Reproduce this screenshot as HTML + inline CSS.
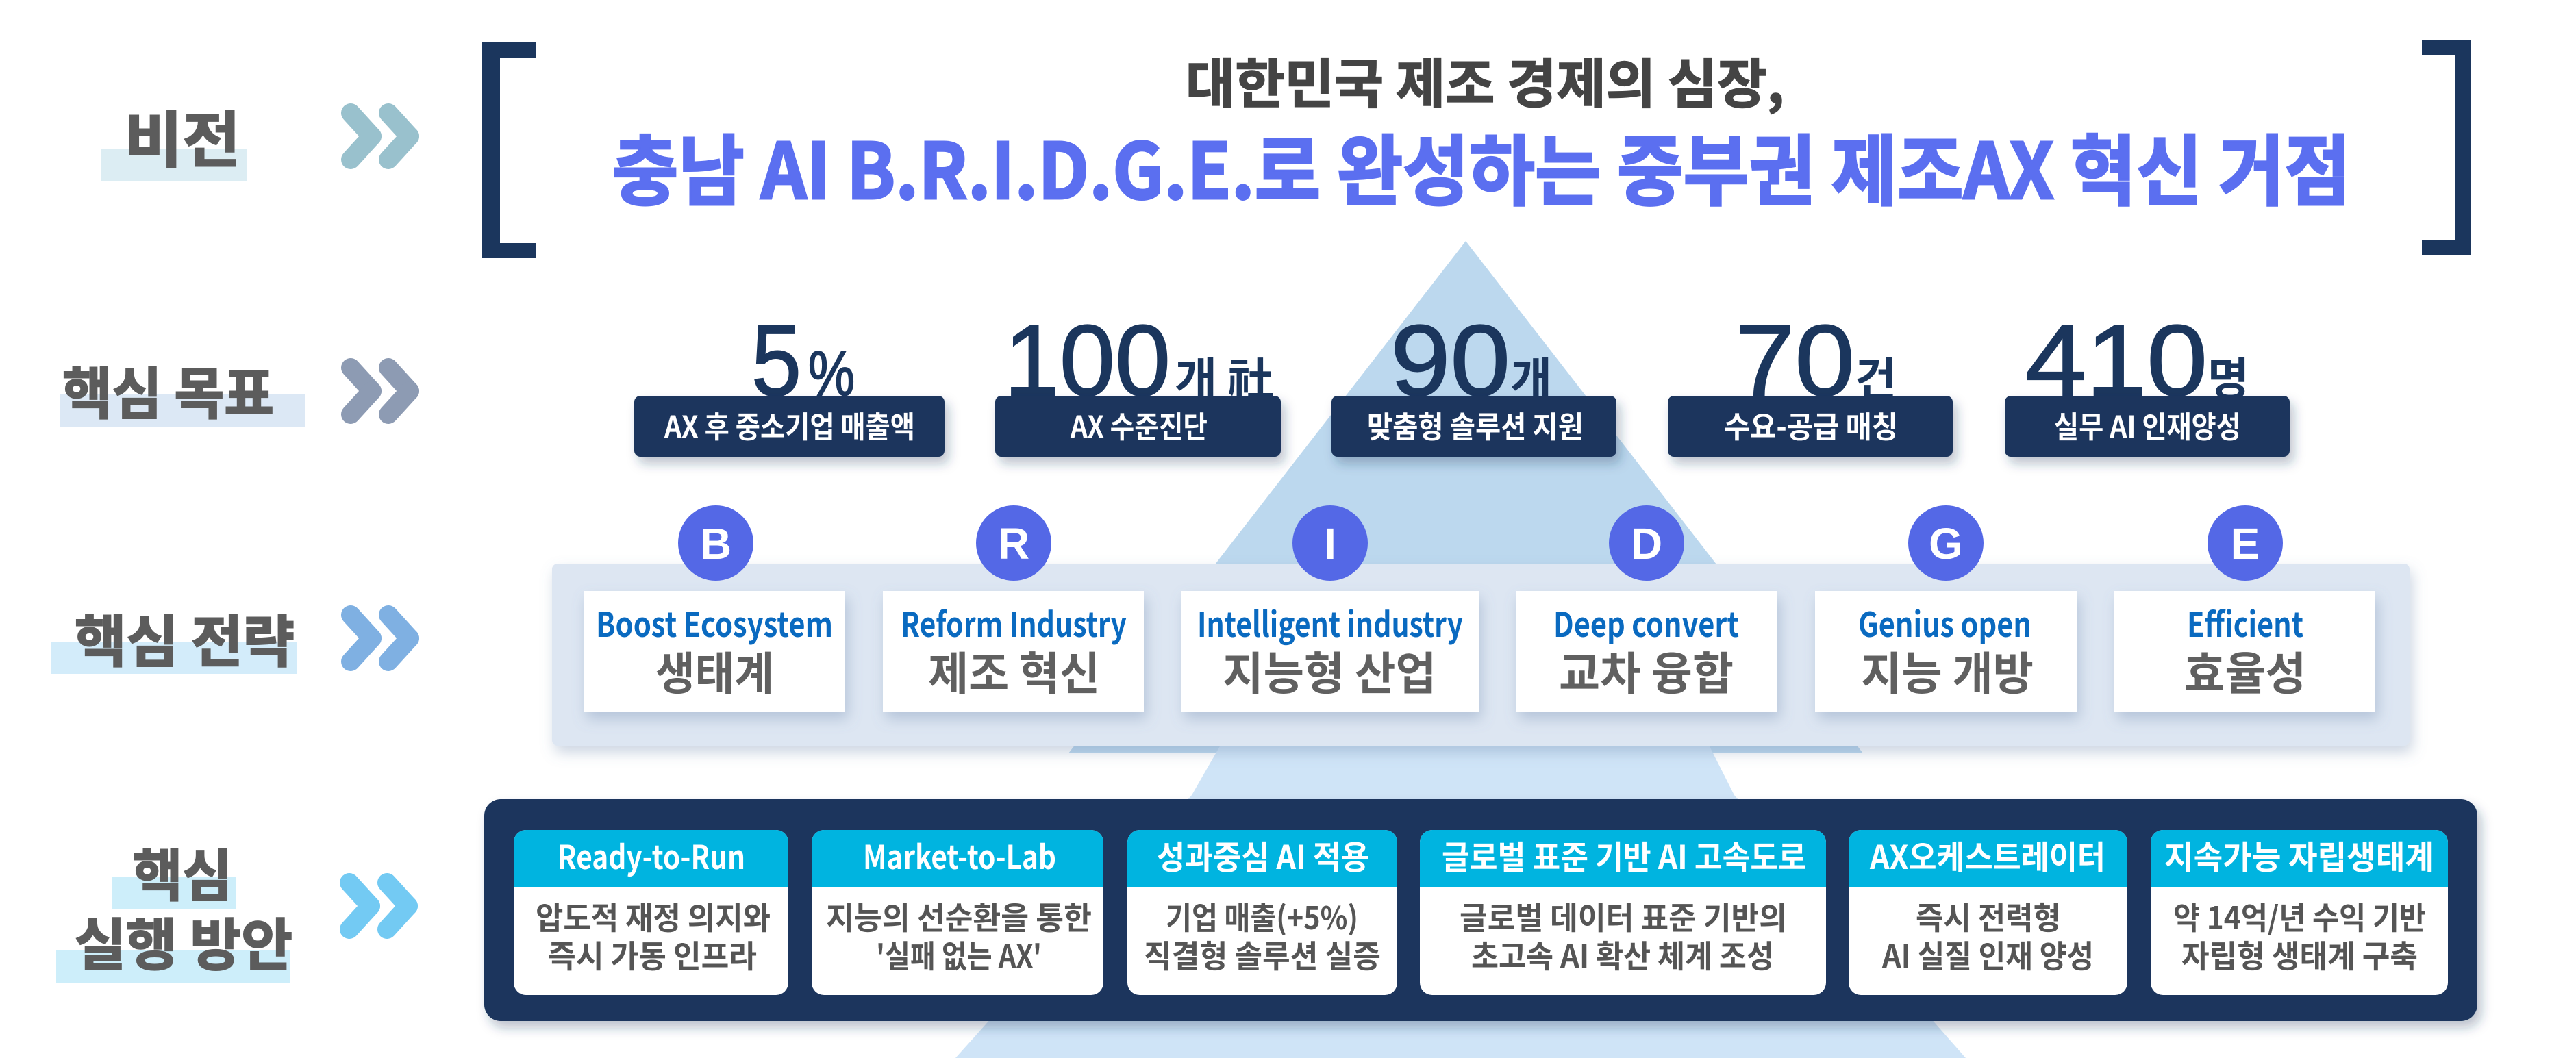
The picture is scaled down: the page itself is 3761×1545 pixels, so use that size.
<!DOCTYPE html>
<html><head><meta charset="utf-8">
<style>
html,body{margin:0;padding:0;background:#fff;}
svg{display:block;}
text{font-family:"Liberation Sans","Noto Sans CJK KR",sans-serif;}
.k{font-family:"Noto Sans CJK KR","Liberation Sans",sans-serif;font-weight:700;}
</style></head>
<body>
<svg width="3761" height="1545" viewBox="0 0 3761 1545" xmlns="http://www.w3.org/2000/svg">
<defs>
<filter id="sh" x="-10%" y="-20%" width="130%" height="160%"><feDropShadow dx="6" dy="10" stdDeviation="8" flood-color="#1b365d" flood-opacity="0.3"/></filter>
<filter id="sh2" x="-10%" y="-20%" width="130%" height="160%"><feDropShadow dx="4" dy="10" stdDeviation="10" flood-color="#6a84aa" flood-opacity="0.35"/></filter>
</defs>

<!-- background shapes -->
<polygon points="2140,352 2720,1100 1560,1100" fill="#bcd8ee"/>
<polygon points="1782,1088 2495,1088 2532,1161 2870,1545 1395,1545 1740,1161" fill="#cfe4f7"/>

<!-- brackets -->
<path d="M782,62 H704 V377 H782 V355 H730 V84 H782 Z" fill="#1b365d"/>
<path d="M3536,58 H3608 V372 H3536 V350 H3584 V80 H3536 Z" fill="#1b365d"/>

<!-- title -->
<text class="k" x="1731" y="150" font-size="78" fill="#444" stroke="#444" stroke-width="1.5" textLength="874" lengthAdjust="spacingAndGlyphs">대한민국 제조 경제의 심장,</text>
<text class="k" x="894" y="290" font-size="112" fill="#5b6ff0" stroke="#5b6ff0" stroke-width="3" textLength="2538" lengthAdjust="spacingAndGlyphs">충남 AI B.R.I.D.G.E.로 완성하는 중부권 제조AX 혁신 거점</text>

<!-- left labels -->
<g stroke="#5c5c5c" stroke-width="2">
<rect x="147" y="217" width="214" height="47" fill="#dcedf3" stroke="none"/>
<text class="k" x="182" y="236" font-size="88" fill="#5c5c5c" textLength="169" lengthAdjust="spacingAndGlyphs">비전</text>
<rect x="87" y="576" width="358" height="47" fill="#dce8f5" stroke="none"/>
<text class="k" x="91" y="604" font-size="82" fill="#5c5c5c" textLength="309" lengthAdjust="spacingAndGlyphs">핵심 목표</text>
<rect x="75" y="937" width="358" height="47" fill="#d3ecfa" stroke="none"/>
<text class="k" x="109" y="966" font-size="82" fill="#5c5c5c" textLength="321" lengthAdjust="spacingAndGlyphs">핵심 전략</text>
<rect x="164" y="1280" width="181" height="48" fill="#cdeefa" stroke="none"/>
<text class="k" x="194" y="1308" font-size="82" fill="#5c5c5c" textLength="145" lengthAdjust="spacingAndGlyphs">핵심</text>
<rect x="82" y="1388" width="342" height="47" fill="#cdeefa" stroke="none"/>
<text class="k" x="109" y="1409" font-size="82" fill="#5c5c5c" textLength="318" lengthAdjust="spacingAndGlyphs">실행 방안</text>
</g>

<!-- chevrons -->
<g stroke-linecap="round" stroke-width="28" fill="none">
 <g stroke="#6fa8b8" opacity="0.7"><line x1="512" y1="165" x2="543" y2="199"/><line x1="543" y1="199" x2="512" y2="233"/><line x1="567" y1="165" x2="598" y2="199"/><line x1="598" y1="199" x2="567" y2="233"/></g>
 <g stroke="#5d7194" opacity="0.7" transform="translate(0,372)"><line x1="512" y1="165" x2="543" y2="199"/><line x1="543" y1="199" x2="512" y2="233"/><line x1="567" y1="165" x2="598" y2="199"/><line x1="598" y1="199" x2="567" y2="233"/></g>
 <g stroke="#4a90d6" opacity="0.7" transform="translate(0,733)"><line x1="512" y1="165" x2="543" y2="199"/><line x1="543" y1="199" x2="512" y2="233"/><line x1="567" y1="165" x2="598" y2="199"/><line x1="598" y1="199" x2="567" y2="233"/></g>
 <g stroke="#38b4ee" opacity="0.7" transform="translate(-2,1124)"><line x1="512" y1="165" x2="543" y2="199"/><line x1="543" y1="199" x2="512" y2="233"/><line x1="567" y1="165" x2="598" y2="199"/><line x1="598" y1="199" x2="567" y2="233"/></g>
</g>

<!-- goals -->
<g fill="#1b365d" font-family="Liberation Sans, sans-serif" stroke="#1b365d" stroke-width="2">
 <text x="1097" y="577" font-size="147" textLength="73" lengthAdjust="spacingAndGlyphs">5</text>
 <text x="1180" y="577" font-size="92" textLength="68" lengthAdjust="spacingAndGlyphs">%</text>
 <text x="1466" y="577" font-size="147" textLength="243" lengthAdjust="spacingAndGlyphs">100</text>
 <text x="2030" y="577" font-size="147" textLength="175" lengthAdjust="spacingAndGlyphs">90</text>
 <text x="2533" y="577" font-size="147" textLength="175" lengthAdjust="spacingAndGlyphs">70</text>
 <text x="2957" y="577" font-size="147" textLength="266" lengthAdjust="spacingAndGlyphs">410</text>
</g>
<g fill="#1b365d">
 <text class="k" x="1715" y="577" font-size="66" textLength="145" lengthAdjust="spacingAndGlyphs">개 社</text>
 <text class="k" x="2205" y="577" font-size="66" textLength="61" lengthAdjust="spacingAndGlyphs">개</text>
 <text class="k" x="2708" y="577" font-size="66" textLength="61" lengthAdjust="spacingAndGlyphs">건</text>
 <text class="k" x="3223" y="577" font-size="66" textLength="61" lengthAdjust="spacingAndGlyphs">명</text>
</g>
<g filter="url(#sh)" fill="#1b365d">
 <rect x="926" y="578" width="453" height="89" rx="9"/>
 <rect x="1453" y="578" width="417" height="89" rx="9"/>
 <rect x="1944" y="578" width="416" height="89" rx="9"/>
 <rect x="2435" y="578" width="416" height="89" rx="9"/>
 <rect x="2927" y="578" width="416" height="89" rx="9"/>
</g>
<g fill="#fff" font-size="44">
 <text class="k" x="970" y="639" textLength="366" lengthAdjust="spacingAndGlyphs">AX 후 중소기업 매출액</text>
 <text class="k" x="1563" y="639" textLength="200" lengthAdjust="spacingAndGlyphs">AX 수준진단</text>
 <text class="k" x="1996" y="639" textLength="316" lengthAdjust="spacingAndGlyphs">맞춤형 솔루션 지원</text>
 <text class="k" x="2517" y="639" textLength="254" lengthAdjust="spacingAndGlyphs">수요-공급 매칭</text>
 <text class="k" x="2999" y="639" textLength="273" lengthAdjust="spacingAndGlyphs">실무 AI 인재양성</text>
</g>

<!-- strategy panel -->
<rect x="806" y="823" width="2712" height="266" rx="8" fill="#dde6f2" filter="url(#sh2)"/>
<g fill="#fff" filter="url(#sh2)">
 <rect x="852" y="863" width="382" height="177"/>
 <rect x="1289" y="863" width="381" height="177"/>
 <rect x="1725" y="863" width="434" height="177"/>
 <rect x="2213" y="863" width="382" height="177"/>
 <rect x="2650" y="863" width="382" height="177"/>
 <rect x="3087" y="863" width="381" height="177"/>
</g>
<g fill="#5468e6">
 <circle cx="1045" cy="793" r="55"/><circle cx="1480" cy="793" r="55"/><circle cx="1942" cy="793" r="55"/>
 <circle cx="2404" cy="793" r="55"/><circle cx="2841" cy="793" r="55"/><circle cx="3278" cy="793" r="55"/>
</g>
<g fill="#fff" font-size="64" font-weight="700" text-anchor="middle" font-family="Liberation Sans, sans-serif">
 <text x="1045" y="816">B</text><text x="1480" y="816">R</text><text x="1942" y="816">I</text>
 <text x="2404" y="816">D</text><text x="2841" y="816">G</text><text x="3278" y="816">E</text>
</g>
<g fill="#0a6ac0" font-size="50">
 <text class="k" x="870" y="930" textLength="346" lengthAdjust="spacingAndGlyphs">Boost Ecosystem</text>
 <text class="k" x="1315" y="930" textLength="330" lengthAdjust="spacingAndGlyphs">Reform Industry</text>
 <text class="k" x="1748" y="930" textLength="388" lengthAdjust="spacingAndGlyphs">Intelligent industry</text>
 <text class="k" x="2268" y="930" textLength="271" lengthAdjust="spacingAndGlyphs">Deep convert</text>
 <text class="k" x="2713" y="930" textLength="253" lengthAdjust="spacingAndGlyphs">Genius open</text>
 <text class="k" x="3193" y="930" textLength="170" lengthAdjust="spacingAndGlyphs">Efficient</text>
</g>
<g fill="#606060" font-size="66">
 <text class="k" x="957" y="1007" textLength="173" lengthAdjust="spacingAndGlyphs">생태계</text>
 <text class="k" x="1355" y="1007" textLength="251" lengthAdjust="spacingAndGlyphs">제조 혁신</text>
 <text class="k" x="1785" y="1007" textLength="312" lengthAdjust="spacingAndGlyphs">지능형 산업</text>
 <text class="k" x="2276" y="1007" textLength="255" lengthAdjust="spacingAndGlyphs">교차 융합</text>
 <text class="k" x="2717" y="1007" textLength="252" lengthAdjust="spacingAndGlyphs">지능 개방</text>
 <text class="k" x="3189" y="1007" textLength="178" lengthAdjust="spacingAndGlyphs">효율성</text>
</g>

<!-- action panel -->
<rect x="707" y="1167" width="2910" height="324" rx="24" fill="#1b365d" filter="url(#sh)"/>
<g>
 <rect x="750" y="1212" width="401" height="241" rx="18" fill="#fff"/>
 <rect x="1185" y="1212" width="426" height="241" rx="18" fill="#fff"/>
 <rect x="1646" y="1212" width="394" height="241" rx="18" fill="#fff"/>
 <rect x="2073" y="1212" width="593" height="241" rx="18" fill="#fff"/>
 <rect x="2699" y="1212" width="407" height="241" rx="18" fill="#fff"/>
 <rect x="3140" y="1212" width="434" height="241" rx="18" fill="#fff"/>
</g>
<g fill="#00b4e0">
 <path d="M750,1295 V1230 a18,18 0 0 1 18,-18 H1133 a18,18 0 0 1 18,18 V1295 Z"/>
 <path d="M1185,1295 V1230 a18,18 0 0 1 18,-18 H1593 a18,18 0 0 1 18,18 V1295 Z"/>
 <path d="M1646,1295 V1230 a18,18 0 0 1 18,-18 H2022 a18,18 0 0 1 18,18 V1295 Z"/>
 <path d="M2073,1295 V1230 a18,18 0 0 1 18,-18 H2648 a18,18 0 0 1 18,18 V1295 Z"/>
 <path d="M2699,1295 V1230 a18,18 0 0 1 18,-18 H3088 a18,18 0 0 1 18,18 V1295 Z"/>
 <path d="M3140,1295 V1230 a18,18 0 0 1 18,-18 H3556 a18,18 0 0 1 18,18 V1295 Z"/>
</g>
<g fill="#fff" font-size="48">
 <text class="k" x="814" y="1269" textLength="274" lengthAdjust="spacingAndGlyphs">Ready-to-Run</text>
 <text class="k" x="1260" y="1269" textLength="282" lengthAdjust="spacingAndGlyphs">Market-to-Lab</text>
 <text class="k" x="1689" y="1269" textLength="310" lengthAdjust="spacingAndGlyphs">성과중심 AI 적용</text>
 <text class="k" x="2105" y="1269" textLength="532" lengthAdjust="spacingAndGlyphs">글로벌 표준 기반 AI 고속도로</text>
 <text class="k" x="2730" y="1269" textLength="344" lengthAdjust="spacingAndGlyphs">AX오케스트레이터</text>
 <text class="k" x="3160" y="1269" textLength="394" lengthAdjust="spacingAndGlyphs">지속가능 자립생태계</text>
</g>
<g fill="#555" font-size="46">
 <text class="k" x="782" y="1357" textLength="343" lengthAdjust="spacingAndGlyphs">압도적 재정 의지와</text>
 <text class="k" x="800" y="1413" textLength="305" lengthAdjust="spacingAndGlyphs">즉시 가동 인프라</text>
 <text class="k" x="1206" y="1357" textLength="388" lengthAdjust="spacingAndGlyphs">지능의 선순환을 통한</text>
 <text class="k" x="1279" y="1413" textLength="242" lengthAdjust="spacingAndGlyphs">'실패 없는 AX'</text>
 <text class="k" x="1702" y="1357" textLength="281" lengthAdjust="spacingAndGlyphs">기업 매출(+5%)</text>
 <text class="k" x="1670" y="1413" textLength="346" lengthAdjust="spacingAndGlyphs">직결형 솔루션 실증</text>
 <text class="k" x="2131" y="1357" textLength="478" lengthAdjust="spacingAndGlyphs">글로벌 데이터 표준 기반의</text>
 <text class="k" x="2148" y="1413" textLength="442" lengthAdjust="spacingAndGlyphs">초고속 AI 확산 체계 조성</text>
 <text class="k" x="2797" y="1357" textLength="212" lengthAdjust="spacingAndGlyphs">즉시 전력형</text>
 <text class="k" x="2748" y="1413" textLength="309" lengthAdjust="spacingAndGlyphs">AI 실질 인재 양성</text>
 <text class="k" x="3173" y="1357" textLength="369" lengthAdjust="spacingAndGlyphs">약 14억/년 수익 기반</text>
 <text class="k" x="3185" y="1413" textLength="345" lengthAdjust="spacingAndGlyphs">자립형 생태계 구축</text>
</g>
</svg>
</body></html>
